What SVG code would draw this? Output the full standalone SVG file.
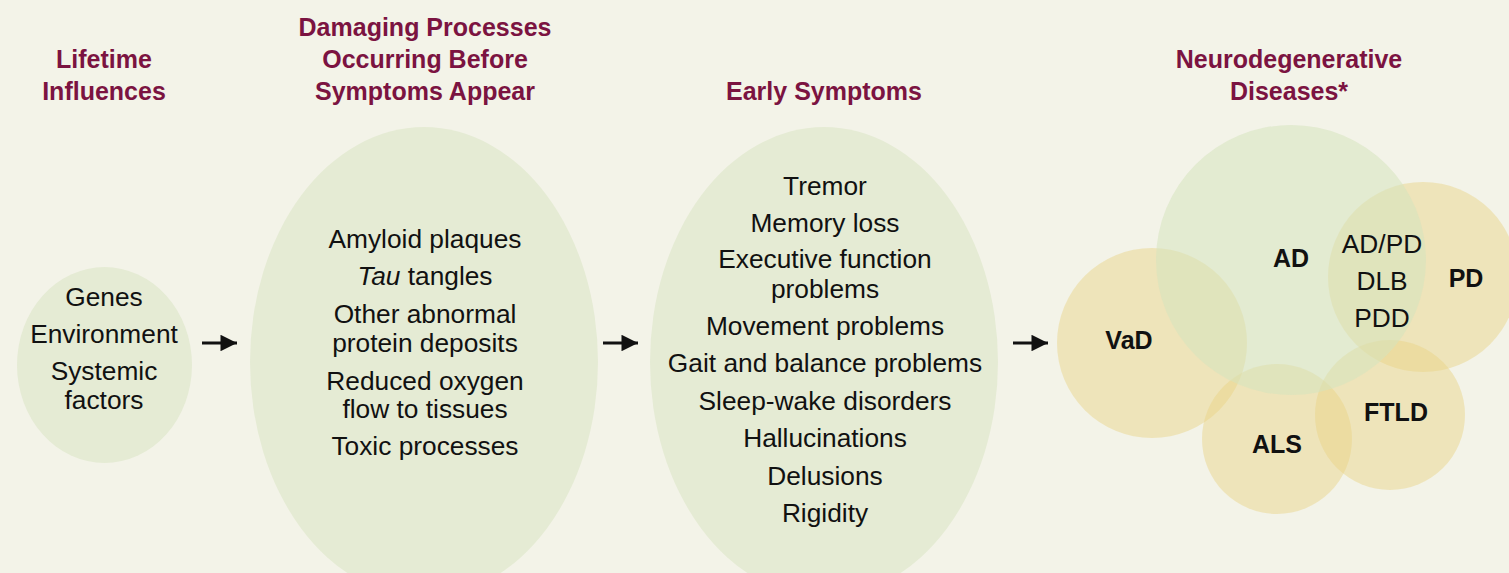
<svg xmlns="http://www.w3.org/2000/svg" width="1509" height="573" viewBox="0 0 1509 573">
<defs>
<style>
.hd{font-family:"Liberation Sans",Arial,sans-serif;font-weight:bold;font-size:25px;fill:#7b1341;text-anchor:middle}
.tx{font-family:"Liberation Sans",Arial,sans-serif;font-size:26.3px;fill:#111;text-anchor:middle}
.bd{font-family:"Liberation Sans",Arial,sans-serif;font-weight:bold;font-size:25px;fill:#111;text-anchor:middle}
.ell{fill:#e5ebd4}
.yc{fill:rgb(232,210,130);fill-opacity:0.45}
.gc{fill:rgb(214,228,190);fill-opacity:0.55}
.ar{stroke:#111;stroke-width:3;fill:none}
</style>
<marker id="ah" viewBox="0 0 10 10" refX="10" refY="5" markerWidth="6.5" markerHeight="5.5" markerUnits="strokeWidth" orient="auto">
<path d="M0,0 L10,5 L0,10 z" fill="#111"/>
</marker>
</defs>
<rect width="1509" height="573" fill="#f3f3e8"/>

<g id="headers">
<text class="hd" x="104" y="68">Lifetime</text>
<text class="hd" x="104" y="100">Influences</text>
<text class="hd" x="425" y="36">Damaging Processes</text>
<text class="hd" x="425" y="68">Occurring Before</text>
<text class="hd" x="425" y="100">Symptoms Appear</text>
<text class="hd" x="824" y="100">Early Symptoms</text>
<text class="hd" x="1289" y="68">Neurodegenerative</text>
<text class="hd" x="1289" y="100">Diseases*</text>
</g>

<g id="lifetime">
<ellipse class="ell" cx="104.5" cy="365" rx="87.5" ry="98"/>
<text class="tx" x="104" y="306">Genes</text>
<text class="tx" x="104" y="343">Environment</text>
<text class="tx" x="104" y="380">Systemic</text>
<text class="tx" x="104" y="409">factors</text>
</g>

<g id="damaging">
<ellipse class="ell" cx="424" cy="362" rx="174" ry="235"/>
<text class="tx" x="425" y="248">Amyloid plaques</text>
<text class="tx" x="425" y="285"><tspan font-style="italic">Tau</tspan> tangles</text>
<text class="tx" x="425" y="323">Other abnormal</text>
<text class="tx" x="425" y="352">protein deposits</text>
<text class="tx" x="425" y="390">Reduced oxygen</text>
<text class="tx" x="425" y="418">flow to tissues</text>
<text class="tx" x="425" y="455">Toxic processes</text>
</g>

<g id="early">
<ellipse class="ell" cx="824" cy="362" rx="174" ry="235"/>
<text class="tx" x="825" y="195">Tremor</text>
<text class="tx" x="825" y="232">Memory loss</text>
<text class="tx" x="825" y="268">Executive function</text>
<text class="tx" x="825" y="298">problems</text>
<text class="tx" x="825" y="335">Movement problems</text>
<text class="tx" x="825" y="372">Gait and balance problems</text>
<text class="tx" x="825" y="410">Sleep-wake disorders</text>
<text class="tx" x="825" y="447">Hallucinations</text>
<text class="tx" x="825" y="485">Delusions</text>
<text class="tx" x="825" y="522">Rigidity</text>
</g>

<g id="diseases">
<g id="VaD"><circle class="yc" cx="1152" cy="343" r="95"/></g>
<g id="PD"><circle class="yc" cx="1423" cy="277" r="95"/></g>
<g id="ALS"><circle class="yc" cx="1277" cy="439" r="75"/></g>
<g id="FTLD"><circle class="yc" cx="1390" cy="415" r="75"/></g>
<g id="AD"><circle class="gc" cx="1291" cy="260" r="135"/></g>
<text class="bd" x="1291" y="267">AD</text>
<text class="bd" x="1466" y="287">PD</text>
<text class="bd" x="1129" y="349">VaD</text>
<text class="bd" x="1277" y="453">ALS</text>
<text class="bd" x="1396" y="421">FTLD</text>
<text class="tx" x="1382" y="253">AD/PD</text>
<text class="tx" x="1382" y="290">DLB</text>
<text class="tx" x="1382" y="327">PDD</text>
</g>

<g id="connectors">
<line class="ar" x1="202" y1="343" x2="237" y2="343" marker-end="url(#ah)"/>
<line class="ar" x1="603" y1="343" x2="638" y2="343" marker-end="url(#ah)"/>
<line class="ar" x1="1013" y1="343" x2="1048" y2="343" marker-end="url(#ah)"/>
</g>
</svg>
